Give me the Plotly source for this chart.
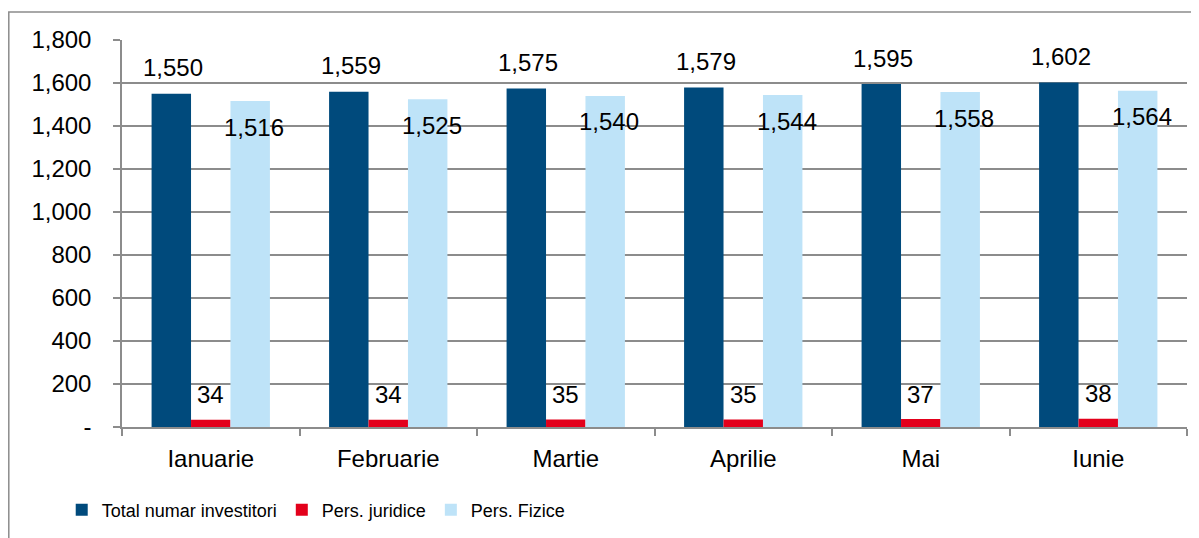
import plotly.graph_objects as go

months = ["Ianuarie", "Februarie", "Martie", "Aprilie", "Mai", "Iunie"]
total = [1550, 1559, 1575, 1579, 1595, 1602]
juridice = [34, 34, 35, 35, 37, 38]
fizice = [1516, 1525, 1540, 1544, 1558, 1564]
series_names = ["Total numar investitori", "Pers. juridice", "Pers. Fizice"]
tick_vals = [0, 200, 400, 600, 800, 1000, 1200, 1400, 1600, 1800]
tick_text = ["-", "200", "400", "600", "800", "1,000", "1,200", "1,400", "1,600", "1,800"]

colors = ["#004A7C", "#E3001B", "#BEE3F8"]
FONT = "Liberation Sans, Arial, sans-serif"

# page body has an 8px default margin
W, H = 1191, 530
L, R, T, B = 114, 12, 32, 111
PW = W - L - R
PH = H - T - B

fig = go.Figure()
for name, vals, col in zip(series_names, [total, juridice, fizice], colors):
    fig.add_trace(go.Bar(x=months, y=vals, name=name, marker=dict(color=col, line=dict(width=0)),
                         hoverinfo="x+y"))

# data labels
bar_px = PW / 6 * (2 / 3) / 3
def fmt(v):
    return f"{v:,}"
for i, m in enumerate(months):
    fig.add_annotation(x=m, y=total[i], text=fmt(total[i]), showarrow=False,
                       xshift=-bar_px + 2, yshift=26, yanchor="middle",
                       font=dict(size=24, color="#000000", family=FONT))
    fig.add_annotation(x=m, y=juridice[i], text=fmt(juridice[i]), showarrow=False,
                       xshift=0, yshift=25, yanchor="middle",
                       font=dict(size=24, color="#000000", family=FONT))
    fig.add_annotation(x=m, y=fizice[i], text=fmt(fizice[i]), showarrow=False,
                       xshift=bar_px + 4, yshift=-26, yanchor="middle",
                       font=dict(size=24, color="#000000", family=FONT))

# outer border
fig.add_shape(type="rect", xref="paper", yref="paper",
              x0=(0.8 - L) / PW, x1=1.05, y0=-0.4, y1=1 + (T - 4) / PH,
              line=dict(color="#8C8C8C", width=1.5), fillcolor="rgba(0,0,0,0)", layer="below")

fig.update_layout(
    width=W, height=H,
    margin=dict(l=L, r=R, t=T, b=B, autoexpand=False),
    paper_bgcolor="white", plot_bgcolor="white",
    barmode="group", bargap=1/3, bargroupgap=0,
    font=dict(family=FONT, size=24, color="#000000"),
    showlegend=True,
    legend=dict(orientation="h", x=-0.0566, xanchor="left", y=-(510 - 427) / PH, yanchor="middle",
                font=dict(size=18, color="#000000", family=FONT), bgcolor="rgba(0,0,0,0)",
                traceorder="normal"),
    xaxis=dict(showline=True, linecolor="#8C8C8C", linewidth=1.5, ticks="outside",
               tickson="boundaries", ticklen=7, tickcolor="#8C8C8C", tickwidth=1.5,
               showgrid=False, tickfont=dict(size=24, family=FONT), ticklabelstandoff=9),
    yaxis=dict(range=[0, 1800], tickvals=tick_vals, ticktext=tick_text,
               showline=True, linecolor="#8C8C8C", linewidth=1.5, ticks="outside",
               ticklen=7, tickcolor="#8C8C8C", tickwidth=1.5,
               showgrid=True, gridcolor="#8C8C8C", gridwidth=1.5, zeroline=False,
               tickfont=dict(size=24, family=FONT), ticklabelstandoff=17),
)

fig.write_html("out.html")
